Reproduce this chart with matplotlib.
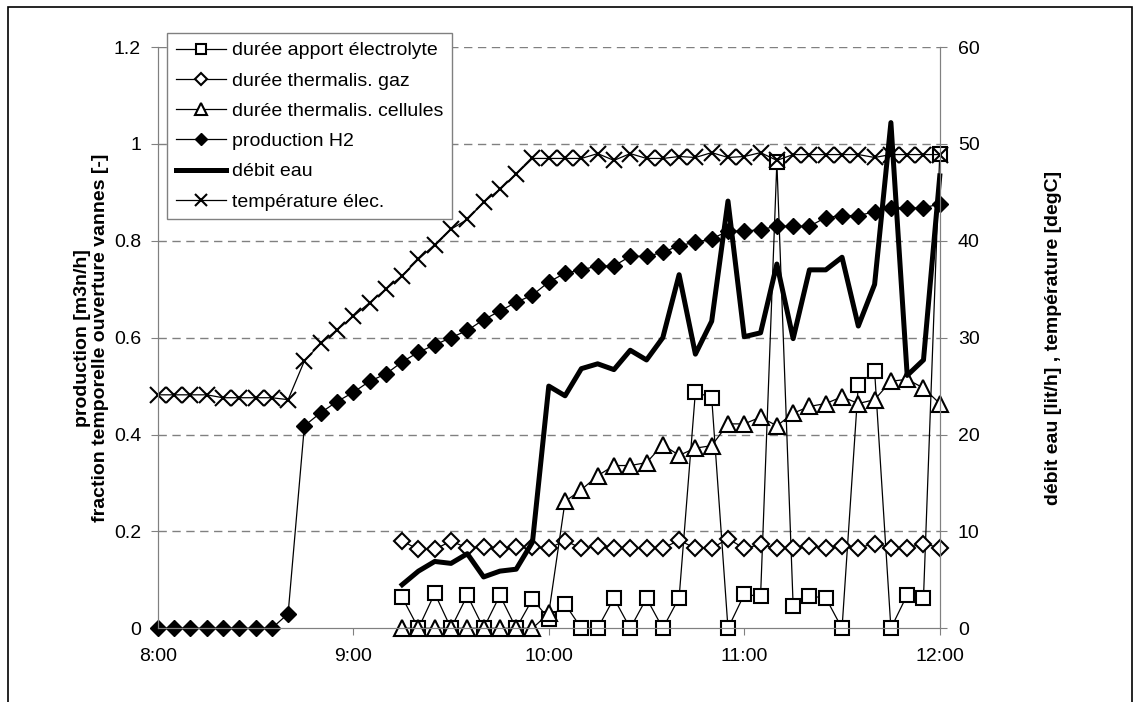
import matplotlib
matplotlib.use("Agg")
import matplotlib.pyplot as plt
from matplotlib.patches import Rectangle

plt.rcParams['font.family'] = ['Liberation Sans', 'DejaVu Sans']
plt.rcParams['font.size'] = 14

# --- données (pas de 5 min) ---
t_all = [8 + i * 5 / 60 for i in range(49)]   # 8:00 -> 12:00
t_late = t_all[15:]                             # 9:15 -> 12:00

production_h2 = [0, 0, 0, 0, 0, 0, 0, 0, 0.03,
                 0.418, 0.445, 0.468, 0.487, 0.51, 0.525, 0.55, 0.57, 0.585,
                 0.60, 0.615, 0.637, 0.655, 0.673, 0.688,
                 0.715, 0.733, 0.74, 0.748, 0.748, 0.768, 0.768, 0.776, 0.79,
                 0.797, 0.804, 0.82, 0.82, 0.823, 0.83, 0.83, 0.83, 0.848,
                 0.852, 0.852, 0.86, 0.868, 0.868, 0.868, 0.876]

temperature = [24.1, 24.1, 24.1, 24.1, 23.8, 23.8, 23.8, 23.8, 23.6,
               27.6, 29.4, 30.8, 32.2, 33.6, 35.0, 36.4, 38.1, 39.6,
               41.2, 42.2, 44.0, 45.3, 46.9, 48.5,
               48.5, 48.5, 48.5, 49.0, 48.3, 49.0, 48.5, 48.5, 48.7,
               48.6, 49.1, 48.6, 48.7, 49.1, 48.3, 48.9, 48.9, 48.9,
               48.9, 48.9, 48.6, 48.9, 48.9, 48.9, 48.9]

apport_electrolyte = [0.064, 0, 0.072, 0, 0.068, 0, 0.068, 0, 0.06,
                      0.02, 0.05, 0, 0, 0.062, 0, 0.062, 0, 0.063,
                      0.488, 0.476, 0, 0.07, 0.066, 0.962, 0.046, 0.066,
                      0.063, 0, 0.503, 0.531, 0, 0.069, 0.063, 0.98]

thermalis_gaz = [0.18, 0.163, 0.163, 0.18, 0.166, 0.168, 0.163, 0.168, 0.168,
                 0.165, 0.181, 0.165, 0.169, 0.165, 0.165, 0.165, 0.165, 0.182,
                 0.165, 0.165, 0.185, 0.165, 0.173, 0.165, 0.166, 0.17,
                 0.166, 0.17, 0.166, 0.175, 0.166, 0.166, 0.175, 0.166]

thermalis_cellules = [0, 0, 0, 0, 0, 0, 0, 0, 0,
                      0.031, 0.262, 0.286, 0.315, 0.336, 0.336, 0.342, 0.379,
                      0.357, 0.372, 0.377, 0.422, 0.422, 0.436, 0.418, 0.444,
                      0.458, 0.464, 0.478, 0.464, 0.472, 0.51, 0.514, 0.496,
                      0.464]

debit_eau = [4.5, 5.9, 6.9, 6.7, 7.7, 5.3, 5.9, 6.1, 8.9,
             25.0, 24.0, 26.8, 27.3, 26.7, 28.7, 27.7, 30.0, 36.5,
             28.3, 31.7, 44.1, 30.1, 30.5, 37.6, 29.9, 37.0, 37.0,
             38.3, 31.2, 35.5, 52.2, 26.1, 27.7, 46.7]

x_ticks = [8, 9, 10, 11, 12]
x_labels = ["8:00", "9:00", "10:00", "11:00", "12:00"]

# --- graphique ---
fig = plt.figure(figsize=(11.35, 7.02), dpi=100)
ax = fig.add_axes([0.139, 0.105, 0.689, 0.828])
ax2 = ax.twinx()

thin = dict(color="black", lw=0.9, clip_on=False)
l1, = ax.plot(t_late, apport_electrolyte, marker="s", ms=9.5, mfc="white",
              mec="black", mew=1.5, label="durée apport électrolyte", **thin)
l2, = ax.plot(t_late, thermalis_gaz, marker="D", ms=8.5, mfc="white",
              mec="black", mew=1.5, label="durée thermalis. gaz", **thin)
l3, = ax.plot(t_late, thermalis_cellules, marker="^", ms=11, mfc="white",
              mec="black", mew=1.5, label="durée thermalis. cellules", **thin)
l4, = ax.plot(t_all, production_h2, marker="D", ms=8.5, mfc="black",
              mec="black", label="production H2", **thin)
l5, = ax2.plot(t_late, debit_eau, color="black", lw=3.6,
               label="débit eau", clip_on=False)
l6, = ax2.plot(t_all, temperature, marker="x", ms=11, mew=1.5,
               label="température élec.", **thin)

ax.set_xlim(8, 12)
ax.set_ylim(0, 1.2)
ax2.set_ylim(0, 60)
ax.set_xticks(x_ticks)
ax.set_xticklabels(x_labels)
ax.set_yticks([0, 0.2, 0.4, 0.6, 0.8, 1.0, 1.2])
ax.set_yticklabels(["0", "0.2", "0.4", "0.6", "0.8", "1", "1.2"])
ax2.set_yticks(range(0, 61, 10))

for a in (ax, ax2):
    a.spines["top"].set_visible(False)
    for s in ("left", "right", "bottom"):
        a.spines[s].set_color("#808080")
    a.tick_params(colors="#808080", labelcolor="black", labelsize=14,
                  length=5, direction="out")
ax.tick_params(axis="x", pad=9)
ax.tick_params(axis="y", pad=7)
ax2.tick_params(axis="y", pad=8)

# quadrillage pointillé
for yv in [0.2, 0.4, 0.6, 0.8, 1.0, 1.2]:
    ax.axhline(yv, color="#808080", lw=1.0, ls=(0, (6, 4)), zorder=0)

ax.set_ylabel("production [m3n/h]\nfraction temporelle ouverture vannes [-]",
              fontweight="bold", fontsize=14, linespacing=1.1)
ax.yaxis.set_label_coords(-0.062, 0.5)
ax2.set_ylabel("débit eau [lit/h] , température [degC]",
               fontweight="bold", fontsize=14)
ax2.yaxis.set_label_coords(1.135, 0.5)

leg = fig.legend(handles=[l1, l2, l3, l4, l5, l6], loc="upper left",
                 bbox_to_anchor=(0.147, 0.953), borderaxespad=0,
                 frameon=True, fancybox=False, markerscale=0.75,
                 edgecolor="#808080", framealpha=1, fontsize=14,
                 handlelength=2.6, labelspacing=0.65, borderpad=0.45,
                 handletextpad=0.3)
leg.get_frame().set_linewidth(1.0)

# cadre du graphique
fig.patches.append(Rectangle((0.007, -0.02), 0.99, 1.01, transform=fig.transFigure,
                             fill=False, edgecolor="black", lw=1.2))

fig.savefig("out.png", dpi=100)
